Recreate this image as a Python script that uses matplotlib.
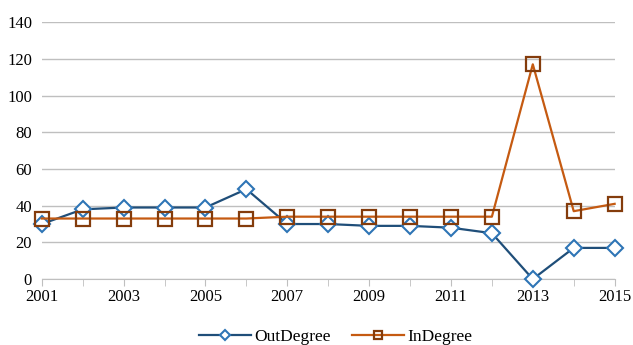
import matplotlib
matplotlib.use("Agg")
import matplotlib.pyplot as plt
from matplotlib.ticker import FixedLocator

years = list(range(2001, 2016))
out_degree = [30, 38, 39, 39, 39, 49, 30, 30, 29, 29, 28, 25, 0, 17, 17]
in_degree = [33, 33, 33, 33, 33, 33, 34, 34, 34, 34, 34, 34, 117, 37, 41]
xtick_labels = [2001, 2003, 2005, 2007, 2009, 2011, 2013, 2015]
yticks = [0, 20, 40, 60, 80, 100, 120, 140]

plt.rcParams['font.family'] = ['Liberation Serif', 'DejaVu Serif']

fig = plt.figure(figsize=(6.33, 3.45), dpi=100)
ax = fig.add_axes([0.066, 0.191, 0.905, 0.745])

ax.plot(years, out_degree, color='#1f4e79', lw=1.6, marker='D', ms=8,
        mfc='white', mec='#2e75b6', mew=1.5, label='OutDegree', zorder=3,
        clip_on=False)
ax.plot(years, in_degree, color='#c55a11', lw=1.6, marker='s', ms=10,
        mfc='none', mec='#843c0c', mew=1.6, label='InDegree', zorder=3,
        clip_on=False)

ax.set_xlim(2001, 2015)
ax.set_ylim(0, 140)
ax.set_yticks(yticks)
ax.set_xticks(xtick_labels)
ax.xaxis.set_minor_locator(FixedLocator(years))
ax.grid(axis='y', color='#bfbfbf', lw=1)
ax.set_axisbelow(True)
for s in ['top', 'right', 'left']:
    ax.spines[s].set_visible(False)
ax.spines['bottom'].set_color('#bfbfbf')
ax.tick_params(axis='y', length=0, labelsize=12, pad=7)
ax.tick_params(axis='x', which='both', length=5, color='#bfbfbf', labelsize=12, pad=2)

fig.legend(loc='lower center', ncol=2, frameon=False, fontsize=12.5,
           bbox_to_anchor=(0.53, -0.045), handlelength=3, columnspacing=1.2,
           handletextpad=0.2, markerscale=0.6)

fig.savefig('out.png', dpi=100)
